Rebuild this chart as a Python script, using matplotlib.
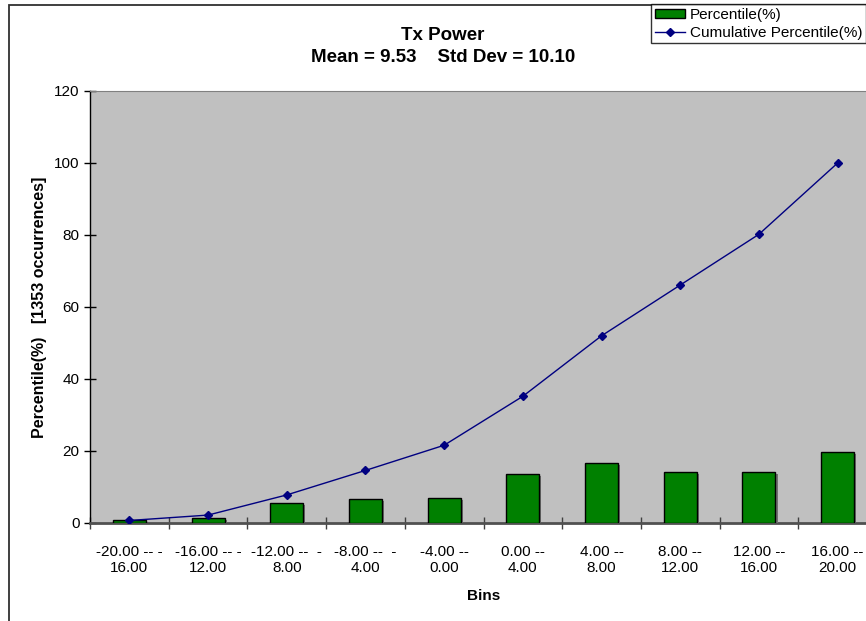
import matplotlib.pyplot as plt
import matplotlib.patheffects as pe
from matplotlib.patches import Rectangle, Patch
from matplotlib.lines import Line2D

plt.rcParams['font.family'] = ['Liberation Sans', 'DejaVu Sans']

# data histogram Tx Power
bins = ["-20.00 -- -\n16.00", "-16.00 -- -\n12.00", "-12.00 --  -\n8.00",
        "-8.00 --  -\n4.00", "-4.00 --\n0.00", "0.00 --\n4.00", "4.00 --\n8.00",
        "8.00 --\n12.00", "12.00 --\n16.00", "16.00 --\n20.00"]
percentile = [0.7, 1.5, 5.6, 6.8, 7.0, 13.6, 16.8, 14.1, 14.1, 19.8]
cumulative = [0.7, 2.2, 7.8, 14.6, 21.6, 35.2, 52.0, 66.1, 80.2, 100.0]
yticks = [0, 20, 40, 60, 80, 100, 120]

W, H = 866, 621
fig = plt.figure(figsize=(W / 100, H / 100), dpi=100)

# plot area: kiri 90px, atas 91px, bawah 523px, lebar 787px (terpotong di kanan)
ax = fig.add_axes([90 / W, (H - 523) / H, 787 / W, 432 / H])
ax.set_facecolor('#C0C0C0')

x = list(range(len(bins)))
ax.bar(x, percentile, width=0.42, color='#008000', edgecolor='black', linewidth=1,
       zorder=3, path_effects=[pe.SimplePatchShadow(offset=(1.5, -1.5), shadow_rgbFace='#707070', alpha=1),
                               pe.Normal()])
ax.plot(x, cumulative, color='#000080', linewidth=1, marker='D', markersize=4.5, zorder=4)

ax.set_xlim(-0.5, len(bins) - 0.5)
ax.set_ylim(0, 120)
ax.set_yticks(yticks)
ax.set_xticks([i - 0.5 for i in x], minor=False)
ax.set_xticklabels([])
ax.set_xticks(x, minor=True)
ax.set_xticklabels(bins, minor=True, fontsize=11, linespacing=1.15)
ax.tick_params(axis='x', which='major', direction='inout', length=9, width=1, color='#404040')
ax.tick_params(axis='x', which='minor', length=0, pad=16)
ax.tick_params(axis='y', direction='inout', length=9, width=1, labelsize=11, pad=3)

for s in ['top', 'right']:
    ax.spines[s].set_color('#808080')
    ax.spines[s].set_linewidth(0.8)
ax.spines['left'].set_color('black')
ax.spines['left'].set_linewidth(1)
ax.spines['bottom'].set_color('#505050')
ax.spines['bottom'].set_linewidth(2)

ax.set_xlabel('Bins', fontsize=11, fontweight='bold', labelpad=10)
ax.set_ylabel('Percentile(%)   [1353 occurrences]', fontsize=11.5, fontweight='bold', labelpad=5)

fig.text(443 / W, 1 - 35 / H, 'Tx Power', ha='center', va='center', fontsize=13.5, fontweight='bold')
fig.text(443 / W, 1 - 58 / H, 'Mean = 9.53    Std Dev = 10.10', ha='center', va='center',
         fontsize=13.5, fontweight='bold')

# bingkai chart luar
fig.patches.append(Rectangle((9 / W, -0.1), 1.2, 1.1 - 5 / H, transform=fig.transFigure,
                             fill=False, edgecolor='#303030', linewidth=1.3))

handles = [Patch(facecolor='#008000', edgecolor='black', linewidth=1),
           Line2D([], [], color='#000080', linewidth=1, marker='D', markersize=4.5)]
leg = fig.legend(handles, ['Percentile(%)', 'Cumulative Percentile(%)'],
                 loc='upper left', bbox_to_anchor=(651 / W, 1 - 4 / H), fontsize=11,
                 frameon=True, fancybox=False, handlelength=2.0, handleheight=0.5,
                 handletextpad=0.3, borderpad=0.25, labelspacing=0.25, borderaxespad=0)
leg.get_frame().set_edgecolor('black')
leg.get_frame().set_linewidth(1)

fig.savefig('out.png', dpi=100)
